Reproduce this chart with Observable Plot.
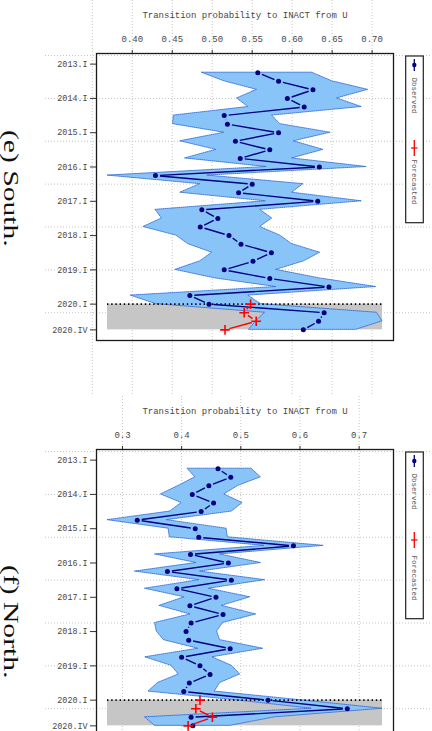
<!DOCTYPE html>
<html><head><meta charset="utf-8">
<script src="https://cdn.jsdelivr.net/npm/d3@7"></script>
<script src="https://cdn.jsdelivr.net/npm/@observablehq/plot@0.6"></script>
<style>
body{margin:0;width:432px;height:731px;overflow:hidden;background:#fff;position:relative}
.panel{position:absolute;left:0;width:432px}
.side{position:absolute;font-family:"Liberation Serif","DejaVu Serif",serif;font-size:20px;line-height:20px;transform-origin:0 0;white-space:nowrap;color:#111}
</style></head><body>
<div id="south" class="panel" style="top:0"></div>
<div id="north" class="panel" style="top:396px"></div>
<div class="side" style="left:21px;top:130px;transform:rotate(90deg) scaleX(1.48)">(e) South.</div>
<div class="side" style="left:21px;top:565px;transform:rotate(90deg) scaleX(1.48)">(f) North.</div>
<script>
const quarters = ["2013.I","2013.II","2013.III","2013.IV","2014.I","2014.II","2014.III","2014.IV",
  "2015.I","2015.II","2015.III","2015.IV","2016.I","2016.II","2016.III","2016.IV",
  "2017.I","2017.II","2017.III","2017.IV","2018.I","2018.II","2018.III","2018.IV",
  "2019.I","2019.II","2019.III","2019.IV","2020.I","2020.II","2020.III","2020.IV"];
const yTickLabels = ["2013.I","2014.I","2015.I","2016.I","2017.I","2018.I","2019.I","2020.I","2020.IV"];
const yGridQuarterIdx = [-1, 4, 9, 14, 19, 24, 29];
const observedStart = "2013.II";
const forecastStart = "2020.I";
const xTitle = "Transition probability to INACT from U";
const legendLabels = ["Observed", "Forecasted"];

// (e) South
const southObs = [0.557,0.583,0.626,0.594,0.615,0.515,0.519,0.583,0.529,0.572,0.535,0.634,0.429,0.550,0.533,0.632,0.487,0.507,0.485,0.521,0.536,0.574,0.551,0.515,0.572,0.646,0.472,0.496,0.640,0.633,0.614];
const southLo  = [0.487,0.515,0.556,0.531,0.545,0.452,0.451,0.515,0.460,0.505,0.466,0.568,0.369,0.485,0.460,0.567,0.429,0.437,0.414,0.455,0.470,0.500,0.485,0.454,0.504,0.580,0.398,0.430,0.566,0.555,0.546];
const southHi  = [0.625,0.650,0.695,0.656,0.687,0.575,0.585,0.648,0.602,0.639,0.600,0.693,0.494,0.614,0.600,0.687,0.560,0.575,0.560,0.585,0.600,0.635,0.615,0.580,0.635,0.705,0.545,0.561,0.706,0.713,0.680];
const southFc  = [0.548,0.540,0.555,0.516];
const southXTicks = [0.40,0.45,0.50,0.55,0.60,0.65,0.70];
const southXGrid = [0.35,0.40,0.45,0.50,0.55,0.60,0.65,0.70];

// (f) North
const northObs = [0.4615,0.483,0.446,0.418,0.454,0.433,0.325,0.423,0.429,0.589,0.415,0.479,0.376,0.484,0.392,0.458,0.414,0.470,0.416,0.4075,0.412,0.482,0.400,0.431,0.448,0.413,0.4036,0.546,0.680,0.416,0.419];
const northLo  = [0.410,0.423,0.395,0.365,0.400,0.3805,0.2747,0.378,0.380,0.540,0.355,0.425,0.321,0.430,0.338,0.405,0.3625,0.415,0.355,0.358,0.370,0.428,0.3385,0.383,0.395,0.360,0.344,0.490,0.620,0.338,0.355];
const northHi  = [0.518,0.534,0.496,0.472,0.503,0.485,0.375,0.476,0.478,0.640,0.465,0.534,0.431,0.541,0.446,0.516,0.468,0.526,0.470,0.460,0.465,0.538,0.452,0.485,0.499,0.465,0.456,0.600,0.7395,0.558,0.482];
const northFc  = [0.431,0.424,0.452,0.411];
const northXTicks = [0.3,0.4,0.5,0.6,0.7];
const northXGrid = [0.3,0.4,0.5,0.6,0.7];

const NAVY = "#000080", RED = "#ff0000", TXT = "#484848";
const M = {top: 53, right: 39, bottom: 55, left: 96};

function segments(rows) {
  return rows.slice(1).map((r, k) => ({x1: rows[k].v, y1: rows[k].i, x2: r.v, y2: r.i}));
}

function panel(el, obs, lo, hi, fc, xTicks, xGrid, fmt, redOffset) {
  const s0 = quarters.indexOf(observedStart);
  const f0 = quarters.indexOf(forecastStart);
  const rows = obs.map((v, k) => ({i: s0 + k, v, lo: lo[k], hi: hi[k]}));
  const fRows = fc.map((v, k) => ({i: f0 + k, v}));
  const xmin = d3.min(lo), xmax = d3.max(hi);
  const xpad = (xmax - xmin) * 0.04;
  const n = quarters.length - 1;
  const shade = [{x1: xmin, x2: xmax, y1: f0, y2: n}];
  const svg = Plot.plot({
    width: 432, height: 395,
    marginTop: M.top, marginRight: M.right, marginBottom: M.bottom, marginLeft: M.left,
    style: {fontFamily: "'Liberation Mono', monospace", fontSize: "9px", color: TXT, background: "transparent", overflow: "visible"},
    x: {domain: [xmin - xpad, xmax + xpad], axis: null},
    y: {domain: [-n * 0.04, n * 1.04], reverse: true, axis: null},
    marks: [
      Plot.ruleX(xGrid, {stroke: "#c4c4c4", strokeDasharray: "1,2", insetTop: -M.top, insetBottom: -M.bottom}),
      Plot.ruleY(yGridQuarterIdx, {stroke: "#c4c4c4", strokeDasharray: "1,2", insetLeft: -51, insetRight: -M.right}),
      Plot.rect(shade, {x1: "x1", x2: "x2", y1: "y1", y2: "y2", fill: "#c6c6c6"}),
      Plot.areaX(rows, {y: "i", x1: "lo", x2: "hi", fill: "#88c4f7", stroke: "#2a62d0", strokeWidth: 0.8, strokeDasharray: "1,1"}),
      Plot.ruleY([f0], {x1: xmin, x2: xmax, stroke: "#000", strokeWidth: 1.6, strokeDasharray: "1.4,2.8"}),
      Plot.arrow(segments(rows), {x1: "x1", y1: "y1", x2: "x2", y2: "y2", stroke: NAVY, strokeWidth: 1.4, headLength: 0, insetStart: 4.5, insetEnd: 4.5, strokeLinecap: "butt"}),
      Plot.dot(rows, {x: "v", y: "i", fill: NAVY, r: 2.5}),
      Plot.arrow(segments(fRows), {x1: "x1", y1: "y1", x2: "x2", y2: "y2", stroke: RED, strokeWidth: 1.4, headLength: 0, insetStart: 4.5, insetEnd: 4.5, strokeLinecap: "butt"}),
      Plot.dot(fRows, {x: "v", y: "i", symbol: "plus", stroke: RED, strokeWidth: 1.6, r: 3.2}),
      Plot.axisX(xTicks, {anchor: "top", tickFormat: d3.format(fmt), tickSize: 4, tickPadding: 8, label: null, fontSize: 9, stroke: "#333", fill: TXT}),
      Plot.axisY(yTickLabels.map(l => quarters.indexOf(l)), {anchor: "left", tickFormat: i => quarters[i], tickSize: 6, tickPadding: 3, label: null, fontSize: 8.4, stroke: "#333", fill: TXT}),
      Plot.text([xTitle], {frameAnchor: "top", dy: -38, lineAnchor: "middle", fontSize: 9, fill: TXT}),
      Plot.frame({stroke: "#1a1a1a", strokeWidth: 1.3})
    ]
  });
  // legend (rotated, right side)
  const g = d3.select(svg).append("g");
  const lx = 414.3, top = 56;
  g.append("rect").attr("x", 405.7).attr("y", top).attr("width", 17.6).attr("height", 166.7)
    .attr("fill", "#fff").attr("stroke", "#222").attr("stroke-width", 1.2);
  g.append("line").attr("x1", lx).attr("x2", lx).attr("y1", top + 3).attr("y2", top + 15)
    .attr("stroke", NAVY).attr("stroke-width", 1.3);
  g.append("circle").attr("cx", lx).attr("cy", top + 9).attr("r", 2.2).attr("fill", NAVY);
  g.append("line").attr("x1", lx).attr("x2", lx).attr("y1", top + redOffset - 8).attr("y2", top + redOffset + 8)
    .attr("stroke", RED).attr("stroke-width", 1.3);
  g.append("line").attr("x1", lx - 3.2).attr("x2", lx + 3.2).attr("y1", top + redOffset).attr("y2", top + redOffset)
    .attr("stroke", RED).attr("stroke-width", 1.3);
  [[legendLabels[0], top + 21.5], [legendLabels[1], top + 103.5]].forEach(([t, y]) => {
    g.append("text").attr("transform", `translate(${lx},${y}) rotate(90)`)
      .attr("text-anchor", "start").attr("dominant-baseline", "central")
      .attr("font-family", "'Liberation Mono', monospace").attr("font-size", 7.5).attr("fill", "#555").text(t);
  });
  document.getElementById(el).appendChild(svg);
}

panel("south", southObs, southLo, southHi, southFc, southXTicks, southXGrid, ".2f", 92);
panel("north", northObs, northLo, northHi, northFc, northXTicks, northXGrid, ".1f", 88);
</script>
</body></html>
